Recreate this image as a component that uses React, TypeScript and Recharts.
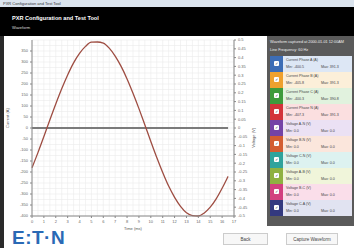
import { LineChart, Line, XAxis, YAxis, CartesianGrid } from "recharts";

// time axis (ms) and phase A current samples
const timeMs = [
  0, 0.5, 1, 1.5, 2, 2.5, 3, 3.5, 4, 4.5, 5, 5.5, 6, 6.5, 7, 7.5, 8, 8.5, 9, 9.5,
  10, 10.5, 11, 11.5, 12, 12.5, 13, 13.5, 14, 14.5, 15, 15.5, 16, 16.5,
];
const currentA = [
  -181, -112, -39, 36, 109, 178, 241, 296, 339, 371, 390, 391, 386, 363, 327, 280,
  223, 158, 88, 14, -61, -134, -202, -264, -315, -356, -385, -398, -400, -386,
  -360, -322, -274, -220,
];
const voltage = timeMs.map(() => 0);

const xTicks = [0, 1, 2, 3, 4, 5, 6, 7, 8, 9, 10, 11, 12, 13, 14, 15, 16, 17];
const currentTicks = [
  -400, -350, -300, -250, -200, -150, -100, -50, 0, 50, 100, 150, 200, 250, 300, 350,
];
const voltTicks = [
  -0.5, -0.45, -0.4, -0.35, -0.3, -0.25, -0.2, -0.15, -0.1, -0.05, 0,
  0.05, 0.1, 0.15, 0.2, 0.25, 0.3, 0.35, 0.4, 0.45, 0.5,
];
const gridX = Array.from({ length: 35 }, (_, i) => i * 0.5);
const gridY = Array.from({ length: 33 }, (_, i) => -400 + i * 25);

const channels = [
  { name: "Current Phase A (A)", min: "-400.5", max: "391.3", color: "#3d6db5", tint: "#dde7f5" },
  { name: "Current Phase B (A)", min: "-405.8", max: "391.3", color: "#efa12e", tint: "#fcefd9" },
  { name: "Current Phase C (A)", min: "-400.3", max: "390.8", color: "#3f9b3c", tint: "#e1f2de" },
  { name: "Current Phase N (A)", min: "-407.3", max: "391.3", color: "#d3343a", tint: "#fbdfe0" },
  { name: "Voltage A-N (V)", min: "0.0", max: "0.0", color: "#7443a6", tint: "#ebe1f4" },
  { name: "Voltage B-N (V)", min: "0.0", max: "0.0", color: "#d35d32", tint: "#fbe6dc" },
  { name: "Voltage C-N (V)", min: "0.0", max: "0.0", color: "#2fa39c", tint: "#ddf2f0" },
  { name: "Voltage A-B (V)", min: "0.0", max: "0.0", color: "#8fb141", tint: "#f0f5da" },
  { name: "Voltage B-C (V)", min: "0.0", max: "0.0", color: "#d2407f", tint: "#fadeea" },
  { name: "Voltage C-A (V)", min: "0.0", max: "0.0", color: "#33397f", tint: "#e1e3f1" },
];

const data = timeMs.map((t, i) => ({ t, ia: currentA[i], v: voltage[i] }));

const tickStyle = { fontSize: 4, fill: "#666" };

export default function App() {
  return (
    <div
      style={{
        position: "fixed", left: 0, top: 0, width: 354, height: 248,
        background: "#fff", overflow: "hidden", fontFamily: "'Liberation Sans', Arial, sans-serif",
      }}
    >
      {/* window title bar */}
      <div style={{ position: "absolute", left: 0, top: 0, width: 354, height: 7, background: "#dbe4ee", fontSize: 4, color: "#333", lineHeight: "7px", paddingLeft: 3 }}>
        PXR Configuration and Test Tool
      </div>
      {/* app header */}
      <div style={{ position: "absolute", left: 0, top: 7, width: 354, height: 29, background: "#000" }}>
        <div style={{ position: "absolute", left: 12, top: 8, fontSize: 5.6, fontWeight: 600, color: "#fff" }}>
          PXR Configuration and Test Tool
        </div>
        <div style={{ position: "absolute", left: 12, top: 18, fontSize: 4, color: "#ddd" }}>Waveform</div>
      </div>
      <div style={{ position: "absolute", left: 0, top: 36, width: 4, height: 212, background: "#2a2a2a" }} />

      <div style={{ position: "absolute", left: 4, top: 36 }}>
        <LineChart width={262} height={196} data={data} margin={{ top: 4, right: 10, bottom: 4, left: 8 }}>
          <CartesianGrid stroke="#ebebeb" strokeWidth={0.6} yAxisId="cur" verticalValues={gridX} horizontalValues={gridY} />
          <XAxis
            dataKey="t" type="number" domain={[0, 17]} ticks={xTicks} interval={0}
            tick={tickStyle} tickSize={2} height={12} stroke="#888"
            label={{ value: "Time (ms)", position: "insideBottom", offset: -2, fontSize: 4, fill: "#555" }}
          />
          <YAxis
            yAxisId="cur" domain={[-400, 400]} ticks={currentTicks} interval={0}
            tick={tickStyle} tickSize={2} width={20} stroke="#888"
            label={{ value: "Current (A)", angle: -90, position: "insideLeft", offset: -4, fontSize: 4, fill: "#555" }}
          />
          <YAxis
            yAxisId="volt" orientation="right" domain={[-0.5, 0.5]} ticks={voltTicks} interval={0}
            tick={tickStyle} tickSize={2} width={22} stroke="#888"
            label={{ value: "Voltage (V)", angle: -90, position: "insideRight", offset: 2, fontSize: 4, fill: "#555" }}
          />
          <Line yAxisId="volt" dataKey="v" stroke="#7b7b7b" strokeWidth={1.8} dot={false} isAnimationActive={false} />
          <Line yAxisId="cur" type="monotone" dataKey="ia" stroke="#9e4d42" strokeWidth={1.3} dot={false} isAnimationActive={false} />
        </LineChart>
      </div>

      {/* channel panel */}
      <div style={{ position: "absolute", left: 267, top: 36, width: 87, height: 190, background: "#5a5a5a" }}>
        <div style={{ position: "absolute", left: 3, top: 4, fontSize: 3.8, color: "#eee", whiteSpace: "nowrap" }}>
          Waveform captured at 2000-01-01 12:00AM
        </div>
        <div style={{ position: "absolute", left: 3, top: 12, fontSize: 3.8, color: "#eee" }}>Line Frequency: 60 Hz</div>
        {channels.map((c, i) => (
          <div key={c.name} style={{ position: "absolute", left: 3, top: 20 + i * 16, width: 82, height: 16, display: "flex" }}>
            <div style={{ width: 13, height: 16, background: c.color, position: "relative" }}>
              <div style={{ position: "absolute", left: 4, top: 5, width: 5, height: 5, background: "#fff", borderRadius: 1, fontSize: 4, lineHeight: "5px", textAlign: "center", color: "#334" }}>✓</div>
            </div>
            <div style={{ flex: 1, background: c.tint, position: "relative", fontSize: 3.6, color: "#444" }}>
              <div style={{ position: "absolute", left: 3, top: 2, whiteSpace: "nowrap" }}>{c.name}</div>
              <div style={{ position: "absolute", left: 3, top: 9 }}>Min: {c.min}</div>
              <div style={{ position: "absolute", left: 38, top: 9 }}>Max: {c.max}</div>
            </div>
          </div>
        ))}
      </div>

      {/* footer */}
      <div style={{ position: "absolute", left: 12, top: 228, fontSize: 19, fontWeight: "bold", color: "#2a69b5", letterSpacing: 0.5, lineHeight: "19px" }}>
        E:T·N
      </div>
      <div style={{ position: "absolute", left: 223, top: 233, width: 45, height: 12, border: "1px solid #ccc", background: "#f7f7f7", fontSize: 4.5, color: "#444", textAlign: "center", lineHeight: "12px", boxSizing: "border-box" }}>
        Back
      </div>
      <div style={{ position: "absolute", left: 286, top: 233, width: 52, height: 12, border: "1px solid #ccc", background: "#f7f7f7", fontSize: 4.5, color: "#444", textAlign: "center", lineHeight: "12px", boxSizing: "border-box" }}>
        Capture Waveform
      </div>
    </div>
  );
}
